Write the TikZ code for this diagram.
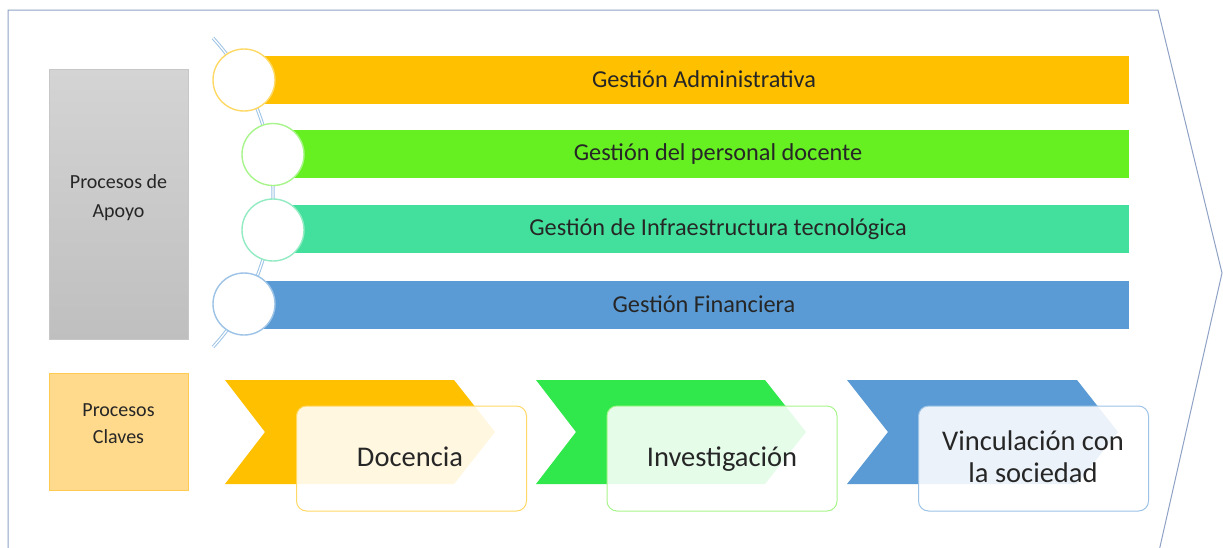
\documentclass[tikz,border=0pt]{standalone}
\usepackage{fontspec}
\setmainfont{Carlito}
\definecolor{outl}{HTML}{8FA2C6}
\definecolor{barY}{HTML}{FFC000}
\definecolor{barG}{HTML}{66F022}
\definecolor{barT}{HTML}{42E09C}
\definecolor{barB}{HTML}{5B9BD5}
\definecolor{cirY}{HTML}{FFD966}
\definecolor{cirG}{HTML}{A8F58C}
\definecolor{cirT}{HTML}{93EBC4}
\definecolor{cirB}{HTML}{9DC3E6}
\definecolor{chG}{HTML}{30E84C}
\definecolor{txt}{HTML}{262626}
\definecolor{apoyoTop}{HTML}{D4D4D4}
\definecolor{apoyoBot}{HTML}{BFBFBF}
\definecolor{clavFill}{HTML}{FFD98C}
\definecolor{clavLine}{HTML}{FFCB52}
\tikzset{
  bar/.style={rectangle, inner sep=0pt, minimum height=48pt, draw=none},
  bartext/.style={text=txt, font=\fontsize{24.3}{28}\selectfont, inner sep=0pt},
  ring/.style={circle, fill=white, draw=#1, line width=1.4pt, minimum size=62pt, inner sep=0pt},
  keybox/.style={rectangle, rounded corners=10pt, fill=white, fill opacity=0.88,
     draw=#1, line width=1pt, minimum width=230pt, minimum height=105pt, inner sep=0pt},
  keytext/.style={text=txt, font=\fontsize{28.5}{32}\selectfont, align=center, inner sep=0pt},
  sidebox/.style={rectangle, inner sep=0pt},
  sidetext/.style={text=txt, align=center, inner sep=0pt, font=\fontsize{20}{29}\selectfont},
}
\begin{document}
\begin{tikzpicture}[x=1pt,y=-1pt]
\useasboundingbox (0,0) rectangle (1223,547);
\clip (0,0) rectangle (1223,547);
\fill[white] (0,0) rectangle (1223,547);
% outer outline
\draw[outl, line width=1pt] (8,560) -- (8,10) -- (1158,10) -- (1222,273) -- (1157,560);

% left labels
\node[sidebox, minimum width=139pt, minimum height=270pt, top color=apoyoTop, bottom color=apoyoBot, draw=black!22] (apoyo) at (118.5,204) {};
\node[sidetext] (apoyoT) at (118.5,197.5) {Procesos de\\Apoyo};
\node[sidebox, minimum width=139pt, minimum height=117pt, fill=clavFill, draw=clavLine, line width=0.8pt] (claves) at (118.5,431.5) {};
\node[sidetext, font=\fontsize{20}{27}\selectfont] (clavesT) at (118.5,423.5) {Procesos\\Claves};

% connecting arc
\draw[cirB, line width=1pt, double=white, double distance=1.3pt]
  plot[domain=-42.4:42.4, smooth, samples=40] ({44+229*cos(\x)},{192.5+229*sin(\x)});

% bars
\node[bar, fill=barY, minimum width=885pt] (b1) at (686.5,79.5) {};
\node[bar, fill=barG, minimum width=856pt] (b2) at (701,154) {};
\node[bar, fill=barT, minimum width=856pt] (b3) at (701,229) {};
\node[bar, fill=barB, minimum width=885pt] (b4) at (686.5,305) {};
\node[bartext] (t1) at (704,79) {Gestión Administrativa};
\node[bartext] (t2) at (718,154) {Gestión del personal docente};
\node[bartext] (t3) at (718,229) {Gestión de Infraestructura tecnológica};
\node[bartext] (t4) at (704,304) {Gestión Financiera};

% circles
\node[ring=cirY] (c1) at (244,80) {};
\node[ring=cirG] (c2) at (273,154.5) {};
\node[ring=cirT] (c3) at (273,230) {};
\node[ring=cirB] (c4) at (244,304) {};

% chevrons
\fill[barY] (225,380) -- (454,380) -- (495,432) -- (454,484) -- (225,484) -- (265,432) -- cycle;
\fill[chG]  (536,380) -- (765,380) -- (806,432) -- (765,484) -- (536,484) -- (576,432) -- cycle;
\fill[barB] (847,380) -- (1077,380) -- (1118,432) -- (1077,484) -- (847,484) -- (888,432) -- cycle;

% key boxes
\node[keybox=cirY] (k1) at (411.5,458.5) {};
\node[keybox=cirG] (k2) at (722,458.5) {};
\node[keybox=cirB] (k3) at (1033.5,458.5) {};
\node[keytext] (k1t) at (410,457) {Docencia};
\node[keytext] (k2t) at (722,459) {Investigación};
\node[keytext] (k3t) at (1033,457) {Vinculación con\\la sociedad};
\end{tikzpicture}
\end{document}
